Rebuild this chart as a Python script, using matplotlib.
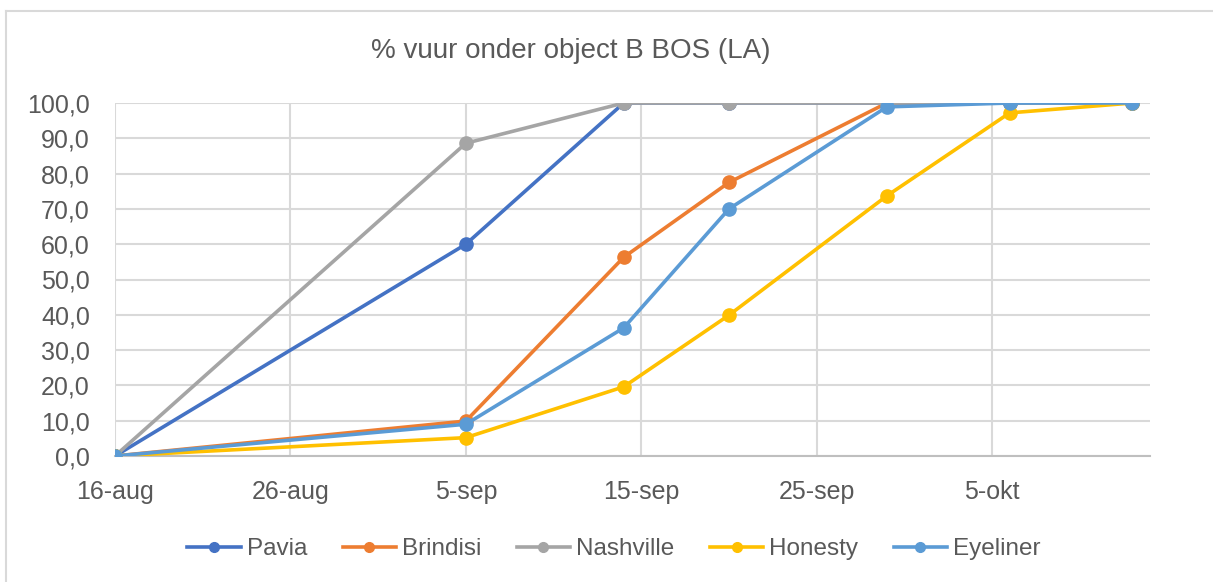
import numpy as np
import matplotlib
matplotlib.use('Agg')
import matplotlib.pyplot as plt
import matplotlib.dates as mdates
from matplotlib.lines import Line2D
from datetime import date, timedelta

plt.rcParams['font.family'] = ['Liberation Sans', 'DejaVu Sans']

## data #######################
dates = ['2021-08-16', '2021-09-05', '2021-09-14', '2021-09-20',
         '2021-09-29', '2021-10-06', '2021-10-13']
pavia     = [0.0, 60.0, 100.0, 100.0, 100.0, 100.0, 100.0]
brindisi  = [0.0, 9.9, 56.3, 77.5, 100.0, 100.0, 100.0]
nashville = [0.0, 88.6, 100.0, 100.0, 100.0, 100.0, 100.0]
honesty   = [0.0, 5.2, 19.6, 39.9, 73.7, 97.2, 100.0]
eyeliner  = [0.0, 9.0, 36.3, 70.0, 98.9, 100.0, 100.0]

names = ['Pavia', 'Brindisi', 'Nashville', 'Honesty', 'Eyeliner']
colours = ['#4472C4', '#ED7D31', '#A5A5A5', '#FFC000', '#5B9BD5']

xtick_labels = ['16-aug', '26-aug', '5-sep', '15-sep', '25-sep', '5-okt']
title = '% vuur onder object B BOS (LA)'
###############################

W, H = 1213, 582
fig = plt.figure(figsize=(W / 100, H / 100), dpi=100)
ax = fig.add_axes([115 / W, 1 - 456 / H, (1150 - 115) / W, (456 - 103) / H])

x = [mdates.date2num(date.fromisoformat(d)) for d in dates]
start = date.fromisoformat(dates[0])
xticks = [mdates.date2num(start + timedelta(days=10 * i)) for i in range(len(xtick_labels))]

series = [pavia, brindisi, nashville, honesty, eyeliner]
for vals, name, col in zip(series, names, colours):
    ax.plot(x, vals, color=col, lw=2.6, marker='o', markersize=9.5,
            label=name, solid_capstyle='round', zorder=3)

ax.set_xlim(mdates.date2num(start), mdates.date2num(start + timedelta(days=59)))
ax.set_ylim(0, 100)
ax.set_yticks(np.arange(0, 101, 10))
ax.set_yticklabels([f'{v:.1f}'.replace('.', ',') for v in np.arange(0, 101, 10)])
ax.set_xticks(xticks)
ax.set_xticklabels(xtick_labels)

ax.grid(True, color='#D9D9D9', lw=1.5, zorder=0)
for s in ['top', 'right', 'left']:
    ax.spines[s].set_visible(False)
ax.spines['bottom'].set_color('#BFBFBF')
ax.spines['bottom'].set_linewidth(1.5)
ax.tick_params(length=0, labelsize=18, colors='#595959')
ax.tick_params(axis='x', pad=17)
ax.tick_params(axis='y', pad=18)

fig.text(571 / W, 1 - 51 / H, title, ha='center', va='center',
         fontsize=20, color='#595959')

handles = [Line2D([], [], color=c, lw=2.6, marker='o', markersize=7) for c in colours]
fig.legend(handles, names, loc='center', bbox_to_anchor=(614 / W, 1 - 549 / H),
           ncol=5, frameon=False, fontsize=17.5, handlelength=2.2,
           handletextpad=0.25, columnspacing=1.45, labelcolor='#595959')

# chart border (top and left visible in screenshot)
fig.add_artist(Line2D([6 / W, 1], [1 - 11 / H, 1 - 11 / H], color='#D9D9D9', lw=1.5))
fig.add_artist(Line2D([6 / W, 6 / W], [0, 1 - 11 / H], color='#D9D9D9', lw=1.5))

fig.savefig('out.png', dpi=100)
